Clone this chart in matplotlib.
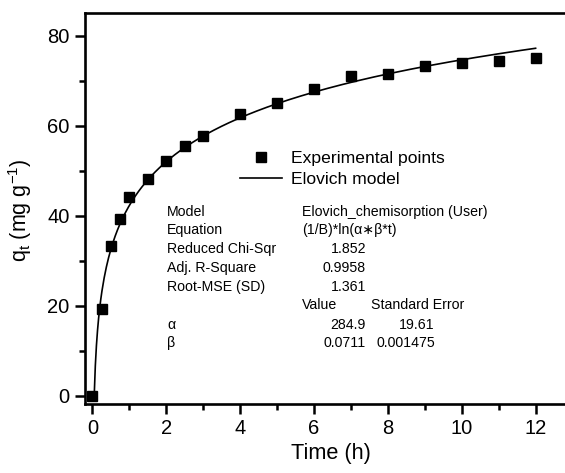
import numpy as np
import matplotlib
matplotlib.use("Agg")
import matplotlib.pyplot as plt
from matplotlib.lines import Line2D
from matplotlib.ticker import MultipleLocator

# ---- data ----
time_h = [0, 0.25, 0.5, 0.75, 1, 1.5, 2, 2.5, 3, 4, 5, 6, 7, 8, 9, 10, 11, 12]
qt_exp = [0, 19.3, 33.3, 39.3, 44.2, 48.3, 52.2, 55.5, 57.8, 62.7, 65.0, 68.2,
          71.1, 71.5, 73.4, 73.9, 74.5, 75.2]
# fitted Elovich parameters shown on the chart
alpha_fit = 284.9
beta_fit = 0.0711
x_ticks = [0, 2, 4, 6, 8, 10, 12]
y_ticks = [0, 20, 40, 60, 80]

plt.rcParams['font.family'] = ['Liberation Sans', 'DejaVu Sans']
plt.rcParams['mathtext.fontset'] = 'custom'
plt.rcParams['mathtext.rm'] = 'Liberation Sans'
plt.rcParams['mathtext.it'] = 'Liberation Sans:italic'

W, H = 565, 473
fig = plt.figure(figsize=(W / 100, H / 100), dpi=100)
ax = fig.add_axes([85 / W, 1 - 404 / H, (567 - 85) / W, (404 - 13) / H])

t_model = np.linspace(1 / (alpha_fit * beta_fit), 12, 400)
q_model = np.log(alpha_fit * beta_fit * t_model) / beta_fit
ax.plot(t_model, q_model, color='black', lw=1.2, zorder=2)
ax.plot(time_h, qt_exp, 's', color='black', ms=7.5, zorder=3)

ax.set_xlim(-0.2, 12.85)
ax.set_ylim(-1.8, 85.1)
ax.set_xticks(x_ticks)
ax.set_yticks(y_ticks)
ax.xaxis.set_minor_locator(MultipleLocator(1))
ax.yaxis.set_minor_locator(MultipleLocator(10))
ax.tick_params(which='major', direction='out', length=7, width=1.8, labelsize=14.5, pad=4)
ax.tick_params(which='minor', direction='out', length=4, width=1.8)
for s in ax.spines.values():
    s.set_linewidth(1.9)
ax.spines['right'].set_visible(False)

fig.text(331 / W, 1 - 453 / H, 'Time (h)', ha='center', va='center', fontsize=15.7)
fig.text(20 / W, 1 - 210 / H, r'q$_\mathrm{t}$ (mg g$^{-1}$)', ha='center', va='center',
         rotation=90, fontsize=15.5)

handles = [Line2D([], [], marker='s', ls='none', color='black', ms=7.5),
           Line2D([], [], color='black', lw=1.2)]
leg = fig.legend(handles, ['Experimental points', 'Elovich model'],
                 loc='upper left', bbox_to_anchor=(240 / W, 1 - 151 / H),
                 frameon=False, fontsize=12.6, handlelength=2.4, handletextpad=0.5,
                 borderpad=0, borderaxespad=0, labelspacing=0.3)

fs = 10.2
def T(x, y, s, ha='left'):
    fig.text(x / W, 1 - y / H, s, ha=ha, va='center', fontsize=fs)

labels = ['Model', 'Equation', 'Reduced Chi-Sqr', 'Adj. R-Square', 'Root-MSE (SD)']
ys = [212, 230, 249, 268, 287]
for lab, y in zip(labels, ys):
    T(167, y, lab)
T(302, 212, 'Elovich_chemisorption (User)')
T(302, 230, '(1/B)*ln(α∗β*t)')
T(366, 249, '1.852', 'right')
T(366, 268, '0.9958', 'right')
T(366, 287, '1.361', 'right')
T(302, 305, 'Value')
T(371, 305, 'Standard Error')
T(167, 325, 'α')
T(167, 343, 'β')
T(366, 325, '284.9', 'right')
T(366, 343, '0.0711', 'right')
T(435, 325, '19.61', 'right')
T(435, 343, '0.001475', 'right')

fig.savefig('out.png', dpi=100)
